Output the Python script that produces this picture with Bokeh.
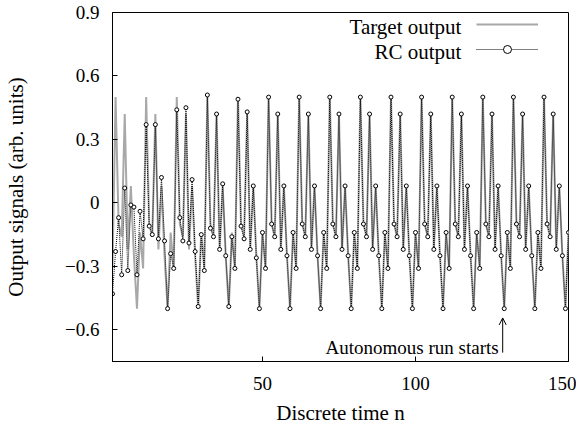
from bokeh.plotting import figure
from bokeh.models import Range1d, FixedTicker, Legend, LegendItem, Label, Arrow, OpenHead
from bokeh.embed import file_html
from bokeh.resources import INLINE
from bokeh.core.properties import value

# ---------------- data ----------------
n_steps = list(range(1, 151))

target_output = [
    -0.31, 0.50, -0.10, -0.16, 0.42, -0.22, 0.08, -0.25, -0.50, -0.14,
    -0.31, 0.50, -0.10, -0.16, 0.42, -0.22, 0.08, -0.25, -0.50, -0.14,
    -0.31, 0.50, -0.10, -0.16, 0.42, -0.22, 0.08, -0.25, -0.50, -0.14,
    -0.31, 0.50, -0.10, -0.16, 0.42, -0.22, 0.08, -0.25, -0.50, -0.14,
    -0.31, 0.50, -0.10, -0.16, 0.42, -0.22, 0.08, -0.25, -0.50, -0.14,
    -0.31, 0.50, -0.10, -0.16, 0.42, -0.22, 0.08, -0.25, -0.50, -0.14,
    -0.31, 0.50, -0.10, -0.16, 0.42, -0.22, 0.08, -0.25, -0.50, -0.14,
    -0.31, 0.50, -0.10, -0.16, 0.42, -0.22, 0.08, -0.25, -0.50, -0.14,
    -0.31, 0.50, -0.10, -0.16, 0.42, -0.22, 0.08, -0.25, -0.50, -0.14,
    -0.31, 0.50, -0.10, -0.16, 0.42, -0.22, 0.08, -0.25, -0.50, -0.14,
    -0.31, 0.50, -0.10, -0.16, 0.42, -0.22, 0.08, -0.25, -0.50, -0.14,
    -0.31, 0.50, -0.10, -0.16, 0.42, -0.22, 0.08, -0.25, -0.50, -0.14,
    -0.31, 0.50, -0.10, -0.16, 0.42, -0.22, 0.08, -0.25, -0.50, -0.14,
    -0.31, 0.50, -0.10, -0.16, 0.42, -0.22, 0.08, -0.25, -0.50, -0.14,
    -0.31, 0.50, -0.10, -0.16, 0.42, -0.22, 0.08, -0.25, -0.50, -0.14,
]

rc_output = [
    -0.43, -0.23, -0.07, -0.34, 0.07, -0.32, -0.01, -0.02, -0.34, -0.04,
    -0.17, 0.37, -0.11, -0.15, 0.37, -0.17, 0.12, -0.18, -0.50, -0.24,
    -0.31, 0.44, -0.07, -0.18, 0.45, -0.19, 0.11, -0.23, -0.49, -0.15,
    -0.32, 0.51, -0.12, -0.16, 0.42, -0.22, 0.09, -0.25, -0.49, -0.16,
    -0.31, 0.49, -0.11, -0.17, 0.43, -0.22, 0.08, -0.26, -0.50, -0.14,
    -0.31, 0.50, -0.10, -0.16, 0.42, -0.22, 0.08, -0.25, -0.50, -0.14,
    -0.31, 0.50, -0.10, -0.16, 0.42, -0.22, 0.08, -0.25, -0.50, -0.14,
    -0.31, 0.50, -0.10, -0.16, 0.42, -0.22, 0.08, -0.25, -0.50, -0.14,
    -0.31, 0.50, -0.10, -0.16, 0.42, -0.22, 0.08, -0.25, -0.50, -0.14,
    -0.31, 0.50, -0.10, -0.16, 0.42, -0.22, 0.08, -0.25, -0.50, -0.14,
    -0.31, 0.50, -0.10, -0.16, 0.42, -0.22, 0.08, -0.25, -0.50, -0.14,
    -0.31, 0.50, -0.10, -0.16, 0.42, -0.22, 0.08, -0.25, -0.50, -0.14,
    -0.31, 0.50, -0.10, -0.16, 0.42, -0.22, 0.08, -0.25, -0.50, -0.14,
    -0.31, 0.50, -0.10, -0.16, 0.42, -0.22, 0.08, -0.25, -0.50, -0.14,
    -0.31, 0.50, -0.10, -0.16, 0.42, -0.22, 0.08, -0.25, -0.50, -0.14,
]

x_ticks = [50, 100, 150]
y_ticks = [-0.6, -0.3, 0, 0.3, 0.6, 0.9]
y_tick_labels = ["\u22120.6", "\u22120.3", "0", "0.3", "0.6", "0.9"]
series_names = ["Target output", "RC output"]
x_title = "Discrete time n"
y_title = "Output signals (arb. units)"
autonomous_start = 128.5
annotation_text = "Autonomous run starts"

FONT = "Liberation Serif"

# ---------------- figure ----------------
p = figure(
    width=576, height=427,
    x_range=Range1d(1, 150), y_range=Range1d(-0.75, 0.9),
    output_backend="svg", toolbar_location=None,
    min_border_left=112, min_border_right=8,
    min_border_top=12, min_border_bottom=63,
)
p.background_fill_color = "white"
p.border_fill_color = "white"
p.outline_line_color = "black"
p.outline_line_width = 1
p.xgrid.visible = False
p.ygrid.visible = False

tl = p.line(n_steps, target_output, line_color="#a8a8a8", line_width=2)
rl = p.line(n_steps, rc_output, line_color="black", line_width=1, line_dash="1 1")
rs = p.scatter(n_steps, rc_output, marker="circle", size=4,
               fill_color="white", line_color="black", line_width=1)

# axes
for ax in (p.xaxis[0], p.yaxis[0]):
    ax.major_tick_in = 5
    ax.major_tick_out = 0
    ax.minor_tick_in = 0
    ax.minor_tick_out = 0
    ax.axis_line_color = "black"
    ax.major_tick_line_color = "black"
    ax.major_label_text_font = FONT
    ax.major_label_text_font_size = "19px"
    ax.major_label_text_color = "black"
    ax.axis_label_text_font = FONT
    ax.axis_label_text_font_style = "normal"
    ax.axis_label_text_color = "black"

p.xaxis.ticker = FixedTicker(ticks=x_ticks)
p.yaxis.ticker = FixedTicker(ticks=y_ticks)
p.yaxis.major_label_overrides = {t: s for t, s in zip(y_ticks, y_tick_labels)}
p.xaxis.major_label_standoff = 15
p.yaxis.major_label_standoff = 13
p.xaxis.axis_label = x_title
p.yaxis.axis_label = y_title
p.xaxis.axis_label_text_font_size = "21px"
p.yaxis.axis_label_text_font_size = "21px"
p.xaxis.axis_label_standoff = 8
p.yaxis.axis_label_standoff = 34

# legend: glyph samples on the right, text placed to their left
legend = Legend(
    items=[LegendItem(label=value(" "), renderers=[tl]),
           LegendItem(label=value(" "), renderers=[rl, rs])],
    location=(364, 302),
    glyph_width=62, glyph_height=20,
    label_width=0, label_standoff=0,
    padding=0, spacing=5, margin=0,
    border_line_color=None, background_fill_alpha=0,
    label_text_font_size="2px",
)
p.add_layout(legend)

for name, yv in zip(series_names, [0.83, 0.712]):
    p.add_layout(Label(x=115.0, y=yv, text=name, text_align="right",
                       text_baseline="middle", text_font=FONT,
                       text_font_size="21px", text_color="black"))

# annotation
p.add_layout(Arrow(end=OpenHead(size=7, line_width=1, line_color="black"),
                   x_start=autonomous_start, y_start=-0.708,
                   x_end=autonomous_start, y_end=-0.544,
                   line_color="black", line_width=1))
p.add_layout(Label(x=autonomous_start, y=-0.685, x_offset=-4, text=annotation_text,
                   text_align="right", text_baseline="middle", text_font=FONT,
                   text_font_size="19px", text_color="black"))

open("out.html", "w").write(file_html(p, INLINE))
